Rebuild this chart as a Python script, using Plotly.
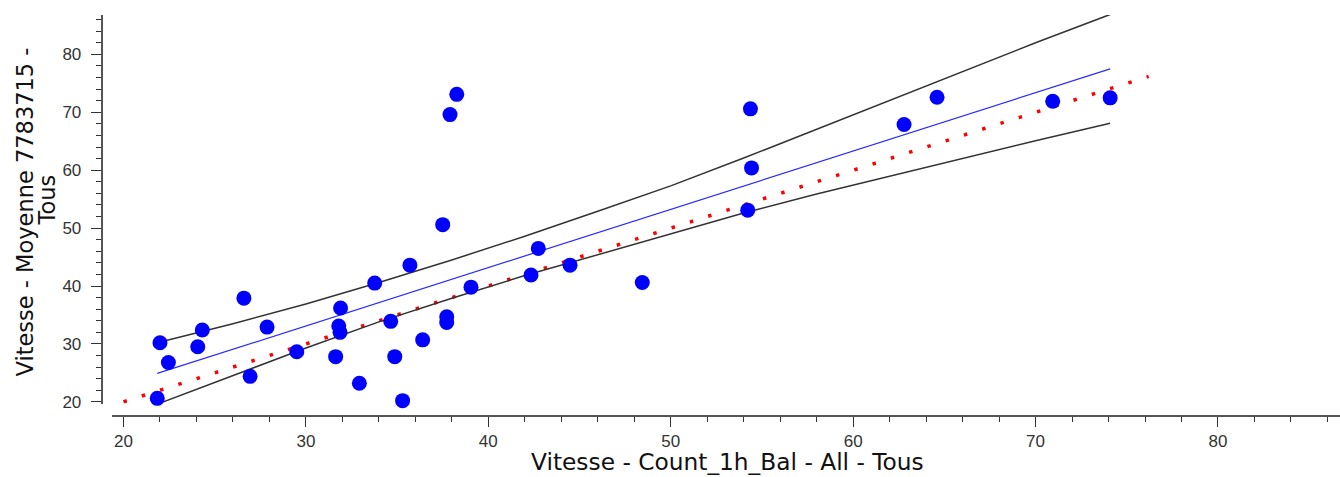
import plotly.graph_objects as go

# ---- data ----
pts_x = [22.0, 22.46, 21.85, 24.32, 24.07, 26.6, 26.94, 27.87, 29.5, 31.63,
         31.8, 31.87, 31.9, 32.93, 33.77, 34.65, 34.87, 35.3, 35.7, 36.4,
         37.5, 37.72, 37.72, 39.05, 42.74, 42.34, 38.27, 37.9, 48.44, 44.48,
         54.37, 54.43, 54.22, 62.79, 64.6, 70.94, 74.09]
pts_y = [30.2, 26.8, 20.6, 32.4, 29.5, 37.9, 24.4, 32.9, 28.65, 27.8,
         33.1, 32.0, 36.2, 23.2, 40.5, 33.9, 27.8, 20.2, 43.6, 30.7,
         50.6, 34.7, 33.7, 39.8, 46.5, 41.9, 73.1, 69.6, 40.6, 43.6,
         70.6, 60.4, 53.1, 67.9, 72.6, 71.9, 72.5]

fit_x = [21.85, 74.09]
fit_y = [24.9, 77.5]

band_x = [21.85, 26, 30, 34, 38, 42, 46, 50, 54, 58, 62, 66, 70, 74.09]
band_upper = [30.2, 33.5, 36.9, 40.6, 44.5, 48.6, 52.9, 57.3, 62.1, 67.1, 72.1, 77.1, 82.0, 86.9]
band_lower = [19.6, 24.6, 29.3, 33.8, 37.9, 41.8, 45.4, 48.9, 52.6, 55.9, 59.0, 62.1, 65.1, 68.1]

ident_x = [20, 76.2]
ident_y = [20, 76.2]

x_ticks = [20, 30, 40, 50, 60, 70, 80]
y_ticks = [20, 30, 40, 50, 60, 70, 80]

x_title = "Vitesse - Count_1h_Bal - All - Tous"
y_title_1 = "Vitesse - Moyenne 7783715 -"
y_title_2 = "Tous"

# ---- layout geometry (target picture pixels) ----
W = 1340
REF_H = 477          # height of the target picture
H = 486              # rendered page height (picture is fitted to REF_H)


def fx(px):
    return px / W


def fy(py):
    return 1 - py / REF_H


x_dom = [fx(111.5), 1.0]
y_dom = [fy(403), fy(15)]
x_rng = [19.342, 86.69]
y_rng = [19.65, 86.80]

px_per_x = (x_dom[1] - x_dom[0]) * W / (x_rng[1] - x_rng[0])
px_per_y = (y_dom[1] - y_dom[0]) * H / (y_rng[1] - y_rng[0])
period = (px_per_x ** 2 + px_per_y ** 2) ** 0.5
dot = 3.5

fig = go.Figure()

fig.add_trace(go.Scatter(x=ident_x, y=ident_y, mode="lines",
                         line=dict(color="#ff0000", width=dot,
                                   dash=f"{dot}px,{period - dot:.3f}px"),
                         cliponaxis=False, hoverinfo="skip"))
fig.add_trace(go.Scatter(x=band_x, y=band_upper, mode="lines",
                         line=dict(color="#333333", width=1.5), cliponaxis=False))
fig.add_trace(go.Scatter(x=band_x, y=band_lower, mode="lines",
                         line=dict(color="#333333", width=1.5), cliponaxis=False))
fig.add_trace(go.Scatter(x=fit_x, y=fit_y, mode="lines",
                         line=dict(color="#2a2aff", width=1.2), cliponaxis=False))
fig.add_trace(go.Scatter(x=pts_x, y=pts_y, mode="markers",
                         marker=dict(color="#0000ff", size=15, line=dict(width=0)),
                         cliponaxis=False))

tickfont = dict(family="Liberation Sans", size=17, color="#333333")
axis_common = dict(showgrid=False, zeroline=False, showline=True,
                   linecolor="#555555", linewidth=2, ticks="outside",
                   ticklen=10, tickwidth=1, tickcolor="#333333",
                   tickfont=tickfont, anchor="free",
                   minor=dict(ticks="outside", ticklen=5, tickwidth=1,
                              tickcolor="#333333", dtick=2, showgrid=False))

fig.update_layout(
    width=W, height=H,
    margin=dict(l=0, r=0, t=0, b=0),
    paper_bgcolor="white", plot_bgcolor="white",
    showlegend=False,
    xaxis=dict(domain=x_dom, range=x_rng, position=fy(415),
               tickvals=x_ticks, ticktext=[str(v) for v in x_ticks],
               ticklabelstandoff=0, **axis_common),
    yaxis=dict(domain=y_dom, range=y_rng, position=fx(101.7),
               tickvals=y_ticks, ticktext=[str(v) for v in y_ticks],
               ticklabelstandoff=6, **axis_common),
    annotations=[
        dict(text=x_title, xref="paper", yref="paper", x=fx(728), y=fy(461),
             xanchor="center", yanchor="middle", showarrow=False,
             font=dict(family="DejaVu Sans", size=23.3, color="#111111")),
        dict(text=y_title_1, xref="paper", yref="paper", x=fx(25), y=fy(212),
             xanchor="center", yanchor="middle", showarrow=False, textangle=-90,
             font=dict(family="DejaVu Sans", size=22.5, color="#111111")),
        dict(text=y_title_2, xref="paper", yref="paper", x=fx(47), y=fy(200),
             xanchor="center", yanchor="middle", showarrow=False, textangle=-90,
             font=dict(family="DejaVu Sans", size=22.5, color="#111111")),
    ],
)

fig.write_html(
    "out.html",
    config={"displayModeBar": False},
    post_script="document.body.style.margin='0';document.body.style.overflow='hidden';"
                "document.documentElement.style.overflow='hidden';",
)
